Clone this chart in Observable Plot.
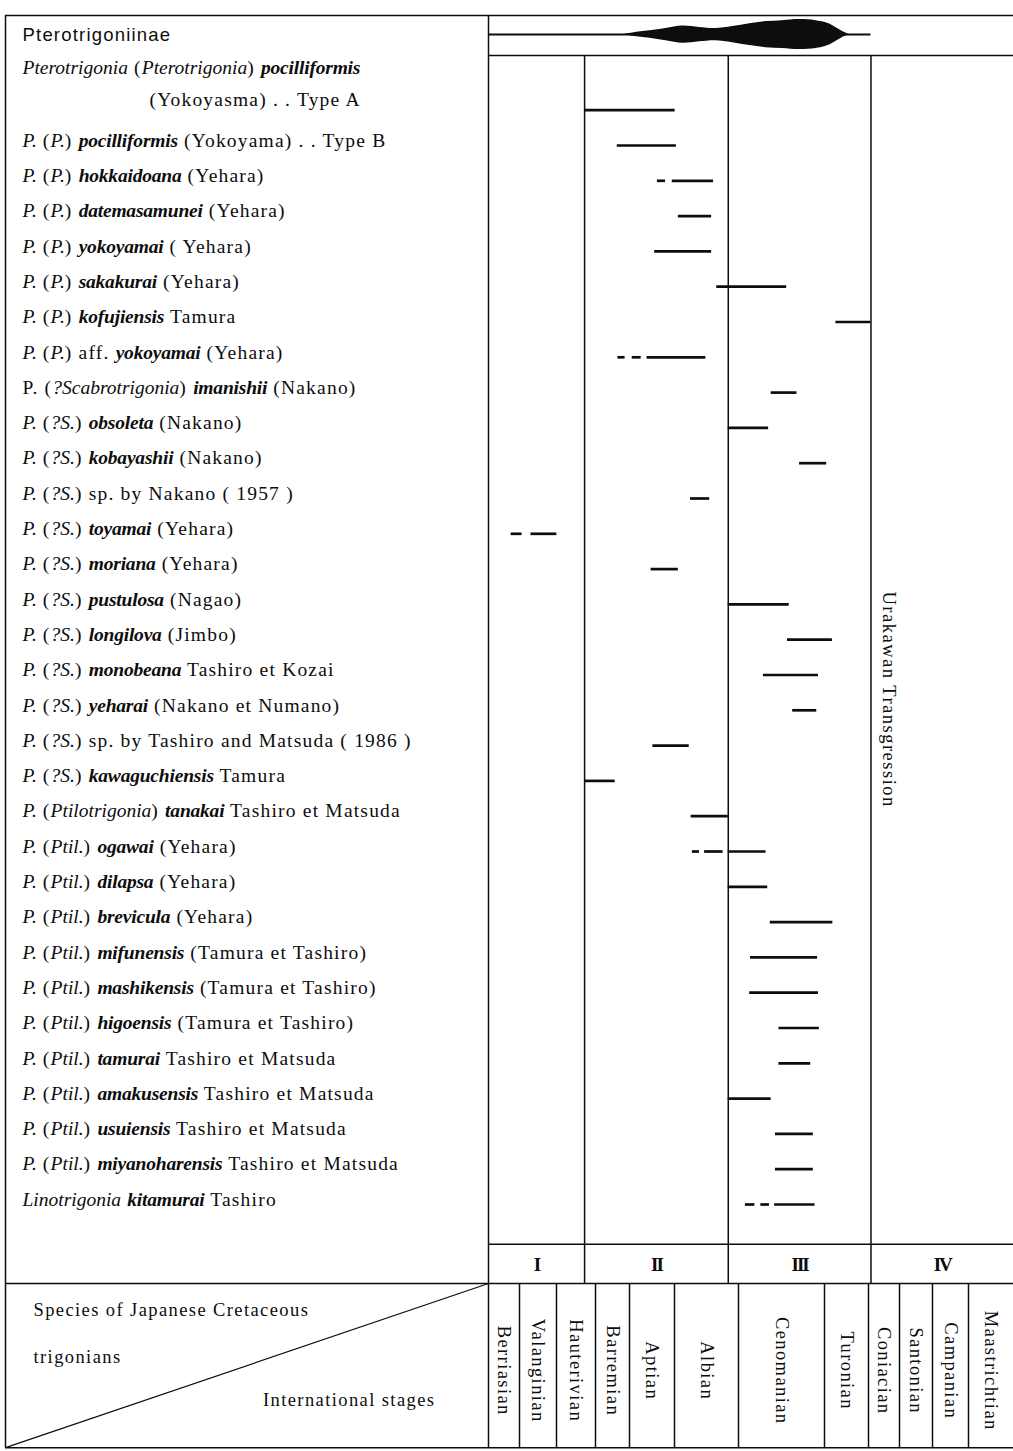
<!DOCTYPE html>
<html>
<head>
<meta charset="utf-8">
<script src="https://cdn.jsdelivr.net/npm/d3@7"></script>
<script src="https://cdn.jsdelivr.net/npm/@observablehq/plot@0.6"></script>
<style>
html, body { margin: 0; padding: 0; background: #fff; }
#chart svg { display: block; background: #fff; }
g[aria-description="species-label"] text { letter-spacing: 1.2px; }
g[aria-description="stage-label"] text { letter-spacing: 1.4px; }
g[aria-description="transgression-label"] text { letter-spacing: 1.5px; }
g[aria-description="interval-label"] text { letter-spacing: -2px; }
g[aria-description="group-title"] text { letter-spacing: 1.2px; }
g[aria-description="corner-label"] text { letter-spacing: 1.4px; }
</style>
</head>
<body>
<div id="chart"></div>
<script>
// ================= DATA =================
const groupTitle = "Pterotrigoniinae";

// species labels; _x_ = italic, *x* = bold italic, \n = continuation line
const speciesLabels = [
  "_Pterotrigonia_ (_Pterotrigonia_) *pocilliformis*\n(Yokoyasma) . . Type A",
  "_P._ (_P._) *pocilliformis* (Yokoyama) . . Type B",
  "_P._ (_P._) *hokkaidoana* (Yehara)",
  "_P._ (_P._) *datemasamunei* (Yehara)",
  "_P._ (_P._) *yokoyamai* ( Yehara)",
  "_P._ (_P._) *sakakurai* (Yehara)",
  "_P._ (_P._) *kofujiensis* Tamura",
  "_P._ (_P._) aff. *yokoyamai* (Yehara)",
  "P. (_?Scabrotrigonia_) *imanishii* (Nakano)",
  "_P._ (_?S._) *obsoleta* (Nakano)",
  "_P._ (_?S._) *kobayashii* (Nakano)",
  "_P._ (_?S._) sp. by Nakano ( 1957 )",
  "_P._ (_?S._) *toyamai* (Yehara)",
  "_P._ (_?S._) *moriana* (Yehara)",
  "_P._ (_?S._) *pustulosa* (Nagao)",
  "_P._ (_?S._) *longilova* (Jimbo)",
  "_P._ (_?S._) *monobeana* Tashiro et Kozai",
  "_P._ (_?S._) *yeharai* (Nakano et Numano)",
  "_P._ (_?S._) sp. by Tashiro and Matsuda ( 1986 )",
  "_P._ (_?S._) *kawaguchiensis* Tamura",
  "_P._ (_Ptilotrigonia_) *tanakai* Tashiro et Matsuda",
  "_P._ (_Ptil._) *ogawai* (Yehara)",
  "_P._ (_Ptil._) *dilapsa* (Yehara)",
  "_P._ (_Ptil._) *brevicula* (Yehara)",
  "_P._ (_Ptil._) *mifunensis* (Tamura et Tashiro)",
  "_P._ (_Ptil._) *mashikensis* (Tamura et Tashiro)",
  "_P._ (_Ptil._) *higoensis* (Tamura et Tashiro)",
  "_P._ (_Ptil._) *tamurai* Tashiro et Matsuda",
  "_P._ (_Ptil._) *amakusensis* Tashiro et Matsuda",
  "_P._ (_Ptil._) *usuiensis* Tashiro et Matsuda",
  "_P._ (_Ptil._) *miyanoharensis* Tashiro et Matsuda",
  "_Linotrigonia_ *kitamurai* Tashiro"
];

// stratigraphic ranges: [species row, from, to] in stage units (0 = base of Berriasian)
// short pieces before a solid range are the dashed (uncertain) parts
const ranges = [
  [0, 2.72, 5.01],
  [1, 3.64, 5.03],
  [2, 4.62, 4.80], [2, 4.95, 5.61],
  [3, 5.06, 5.58],
  [4, 4.56, 5.58],
  [5, 5.66, 6.56],
  [6, 7.26, 8.08],
  [7, 3.66, 3.87], [7, 4.06, 4.26], [7, 4.39, 5.49],
  [8, 6.38, 6.68],
  [9, 5.84, 6.35],
  [10, 6.71, 7.05],
  [11, 5.25, 5.55],
  [12, 0.73, 1.07], [12, 1.31, 2.01],
  [13, 4.48, 5.06],
  [14, 5.84, 6.59],
  [15, 6.57, 7.18],
  [16, 6.29, 6.93],
  [17, 6.63, 6.91],
  [18, 4.52, 5.23],
  [19, 2.72, 3.58],
  [20, 5.26, 5.84],
  [21, 5.28, 5.39], [21, 5.47, 5.76], [21, 5.84, 6.32],
  [22, 5.84, 6.34],
  [23, 6.37, 7.19],
  [24, 6.14, 6.92],
  [25, 6.13, 6.93],
  [26, 6.47, 6.94],
  [27, 6.47, 6.84],
  [28, 5.84, 6.38],
  [29, 6.43, 6.87],
  [30, 6.43, 6.87],
  [31, 6.08, 6.19], [31, 6.26, 6.36], [31, 6.42, 6.89]
];

const stages = ["Berriasian", "Valanginian", "Hauterivian", "Barremian", "Aptian", "Albian",
  "Cenomanian", "Turonian", "Coniacian", "Santonian", "Campanian", "Maastrichtian"];

const intervals = ["I", "II", "III", "IV"];
const intervalEdges = [0, 2.72, 5.84, 8.08, 12]; // stage units

// diversity spindle of the subfamily (relative width)
const spindleX = [3.80, 4.07, 4.45, 4.81, 5.13, 5.39, 5.64, 5.91, 6.13, 6.32, 6.51, 6.71, 6.90, 7.02, 7.18, 7.41, 7.57];
const spindleW = [0, 0.11, 0.25, 0.41, 0.58, 0.48, 0.41, 0.54, 0.73, 0.87, 0.93, 1.00, 0.93, 0.80, 0.60, 0.20, 0];
const spindleLineEnd = 8.08;

const transgressionLabel = "Urakawan Transgression";
const transgressionAt = 8.65;
const cornerTopLines = ["Species of Japanese Cretaceous", "trigonians"];
const cornerBottomLine = "International stages";

// ================= LAYOUT =================
const W = 1013, H = 1451;
const xDomain = d3.range(-1, 13);                    // -1 = left edge of species column
const xRange = [5, 488, 519, 556, 595, 629, 674, 738, 824, 868, 899, 932, 968, 1013];
const rowTop = 104.7, rowStep = 35.3;                // px of row 0 and per row
const Y = {
  top: -2.54, spindle: -2.0, header: -1.41, plotBottom: 32.27, roman: 32.84,
  stageTop: 33.38, stageLabel: 35.85, bottom: 38.03,
  corner1: 34.14, corner2: 35.45, corner3: 36.69, transgression: 16.84
};
const spindleHalf = 0.425;   // rows at relative width 1
const barDy = 5;
const labelDx = 22, contIndent = 127, firstLineRaise = 37.7, lineGap = 32;

const xs = d3.scaleLinear(xDomain, xRange);
const intervalCenters = intervals.map((d, i) =>
  xs.invert((xs(intervalEdges[i]) + xs(intervalEdges[i + 1])) / 2));

const hLines = [
  {y: Y.top, x1: -1, x2: 12},
  {y: Y.header, x1: 0, x2: 12},
  {y: Y.plotBottom, x1: 0, x2: 12},
  {y: Y.stageTop, x1: -1, x2: 12},
  {y: Y.bottom, x1: -1, x2: 12}
];
const vLines = [
  {x: -1, y1: Y.top, y2: Y.bottom},
  {x: 0, y1: Y.top, y2: Y.bottom},
  ...intervalEdges.slice(1, -1).map(e => ({x: e, y1: Y.header, y2: Y.stageTop})),
  ...d3.range(1, 12).map(i => ({x: i, y1: Y.stageTop, y2: Y.bottom}))
];

const spindle = spindleX.map((x, i) => ({x, w: spindleW[i]}));
const plain = s => s.replace(/[_*]/g, "").replace("\n", " ");

const serif = "Liberation Serif, Times New Roman, serif";
const ink = "#0d0d0d";

const svg = Plot.plot({
  width: W, height: H,
  margin: 0,
  style: {background: "#fff", color: ink},
  x: {type: "linear", domain: xDomain, range: xRange, axis: null},
  y: {type: "linear", domain: [0, 31], range: [rowTop, rowTop + 31 * rowStep], axis: null},
  marks: [
    Plot.ruleY(hLines, {y: "y", x1: "x1", x2: "x2", stroke: ink, strokeWidth: 1.5}),
    Plot.ruleX(vLines, {x: "x", y1: "y1", y2: "y2", stroke: ink, strokeWidth: 1.5}),
    Plot.link([0], {x1: -1, y1: Y.bottom, x2: 0, y2: Y.stageTop, stroke: ink, strokeWidth: 1.2}),
    // spindle
    Plot.ruleY([Y.spindle], {x1: 0, x2: spindleLineEnd, stroke: ink, strokeWidth: 2}),
    Plot.areaY(spindle, {x: "x", y1: d => Y.spindle - d.w * spindleHalf, y2: d => Y.spindle + d.w * spindleHalf,
      fill: ink, curve: "catmull-rom"}),
    // ranges
    Plot.ruleY(ranges, {y: d => d[0], x1: d => d[1], x2: d => d[2], dy: barDy, stroke: ink, strokeWidth: 2.7}),
    // labels
    Plot.text(speciesLabels, {y: (d, i) => i, text: plain, frameAnchor: "left", textAnchor: "start", dx: labelDx,
      fontFamily: serif, fontSize: 19.5, fill: ink, ariaDescription: "species-label"}),
    Plot.text([groupTitle], {y: Y.spindle, text: d => d, frameAnchor: "left", textAnchor: "start", dx: labelDx,
      fontFamily: "Liberation Sans, Arial, sans-serif", fontSize: 18.5, fill: ink, ariaDescription: "group-title"}),
    Plot.text(stages, {x: (d, i) => i + 0.5, y: Y.stageLabel, text: d => d, rotate: 90,
      fontFamily: serif, fontSize: 18.5, fill: ink, ariaDescription: "stage-label"}),
    Plot.text(intervals, {x: (d, i) => intervalCenters[i], y: Y.roman, text: d => d,
      fontFamily: serif, fontSize: 19, fontWeight: "bold", fill: ink, ariaDescription: "interval-label"}),
    Plot.text([transgressionLabel], {x: transgressionAt, y: Y.transgression, text: d => d, rotate: 90,
      fontFamily: serif, fontSize: 18.5, fill: ink, ariaDescription: "transgression-label"}),
    Plot.text(cornerTopLines, {y: (d, i) => i === 0 ? Y.corner1 : Y.corner2, text: d => d, frameAnchor: "left",
      textAnchor: "start", dx: 33, fontFamily: serif, fontSize: 18.5, fill: ink, ariaDescription: "corner-label"}),
    Plot.text([cornerBottomLine], {x: -0.11, y: Y.corner3, text: d => d, textAnchor: "end",
      fontFamily: serif, fontSize: 18.5, fill: ink, ariaDescription: "corner-label"})
  ]
});
document.getElementById("chart").append(svg);

// rich text (italic / bold italic, continuation line) for the species labels
const ns = "http://www.w3.org/2000/svg";
svg.querySelectorAll('g[aria-description="species-label"] text').forEach((node, i) => {
  const lines = speciesLabels[i].split("\n");
  node.textContent = "";
  lines.forEach((line, li) => {
    const parts = line.split(/(\*[^*]+\*|_[^_]+_)/).filter(s => s);
    parts.forEach((p, pi) => {
      const t = document.createElementNS(ns, "tspan");
      if (pi === 0 && lines.length > 1) {
        if (li === 0) t.setAttribute("dy", -firstLineRaise);
        else { t.setAttribute("x", contIndent); t.setAttribute("dy", lineGap); }
      }
      if (p.startsWith("*")) {
        t.setAttribute("font-style", "italic");
        t.setAttribute("font-weight", "bold");
        t.style.letterSpacing = "-0.2px";
        t.textContent = p.slice(1, -1);
      } else if (p.startsWith("_")) {
        t.setAttribute("font-style", "italic");
        t.style.letterSpacing = "0px";
        t.textContent = p.slice(1, -1);
      } else {
        t.textContent = p;
      }
      node.appendChild(t);
    });
  });
});
</script>
</body>
</html>
